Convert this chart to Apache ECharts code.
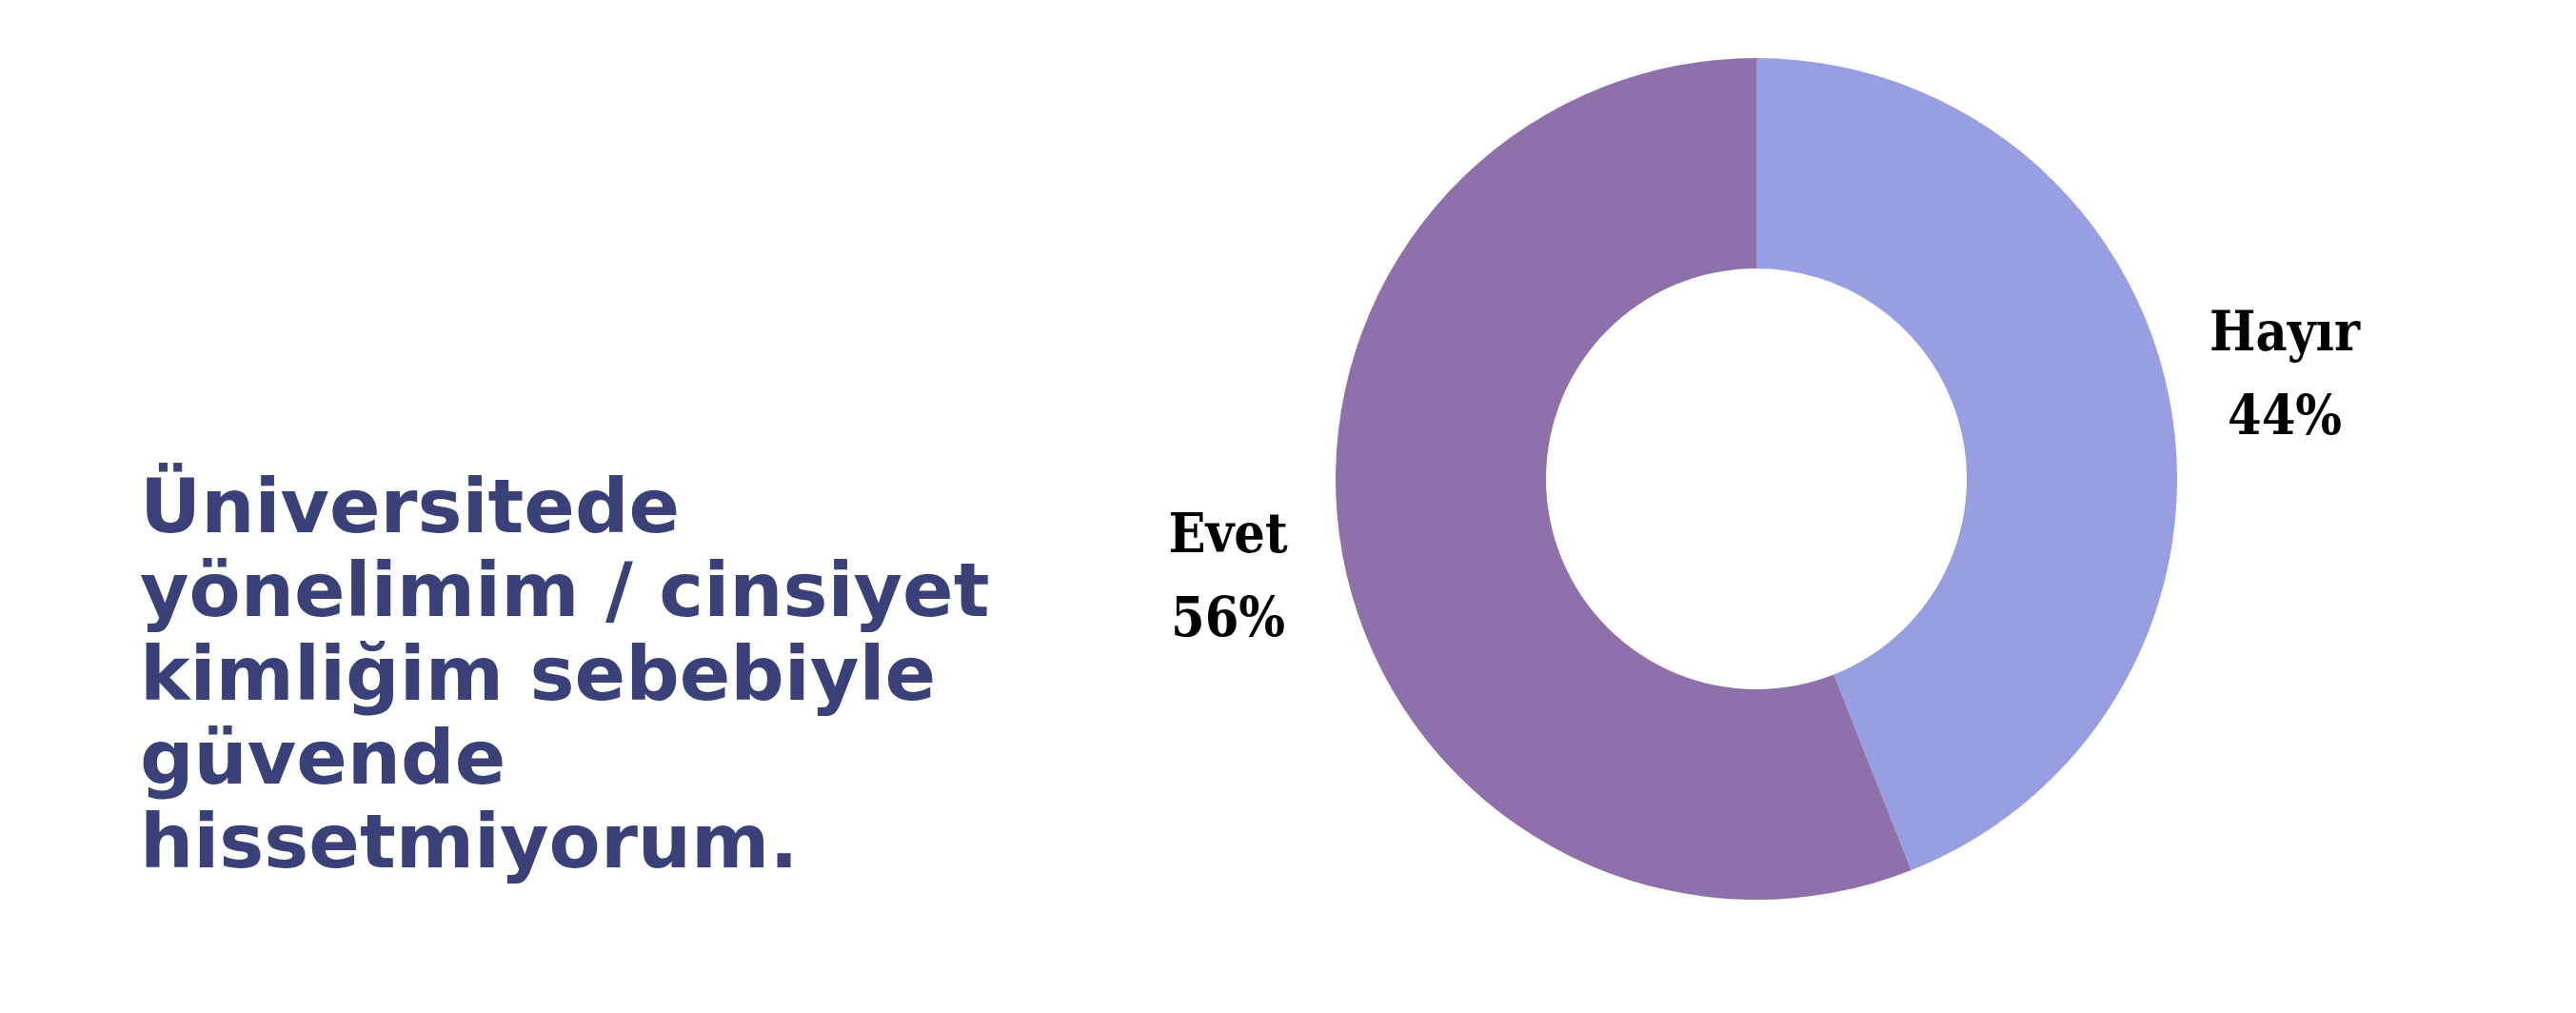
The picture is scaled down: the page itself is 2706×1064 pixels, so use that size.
<!DOCTYPE html>
<html>
<head>
<meta charset="utf-8">
<script src="https://cdn.jsdelivr.net/npm/echarts@6/dist/echarts.min.js"></script>
<style>
  html, body { margin: 0; padding: 0; background: #ffffff; }
  #chart { width: 2706px; height: 1064px; }
</style>
</head>
<body>
<div id="chart"></div>
<script>
const titleLines = ['Üniversitede', 'yönelimim / cinsiyet', 'kimliğim sebebiyle', 'güvende', 'hissetmiyorum.'];
const categories = ['Hayır', 'Evet'];
const values = [44, 56];
const colors = ['#979FE2', '#8E70AB'];

const chart = echarts.init(document.getElementById('chart'));
chart.setOption({
  backgroundColor: '#ffffff',
  animation: false,
  title: {
    text: titleLines.join('\n'),
    left: 147,
    top: 494,
    padding: 0,
    textStyle: {
      fontFamily: 'DejaVu Sans',
      fontWeight: 'bold',
      fontSize: 79,
      lineHeight: 88,
      color: '#3A4179'
    }
  },
  series: [{
    type: 'pie',
    center: [1845, 503],
    radius: [221, 442],
    startAngle: 90,
    clockwise: true,
    avoidLabelOverlap: false,
    data: categories.map((c, i) => ({ name: c, value: values[i], itemStyle: { color: colors[i] } })),
    label: {
      show: true,
      position: 'outside',
      distanceToLabelLine: 0,
      formatter: '{a|{b}}\n{a|{d}%}',
      rich: {
        a: {
          align: 'center',
          fontFamily: 'DejaVu Serif Condensed, DejaVu Serif',
          fontWeight: 'bold',
          fontSize: 57,
          lineHeight: 88,
          color: '#000000'
        }
      }
    },
    labelLine: { show: false, length: 123, length2: 0 },
    labelLayout: { align: 'center' },
    emphasis: { disabled: true }
  }]
});
</script>
</body>
</html>
